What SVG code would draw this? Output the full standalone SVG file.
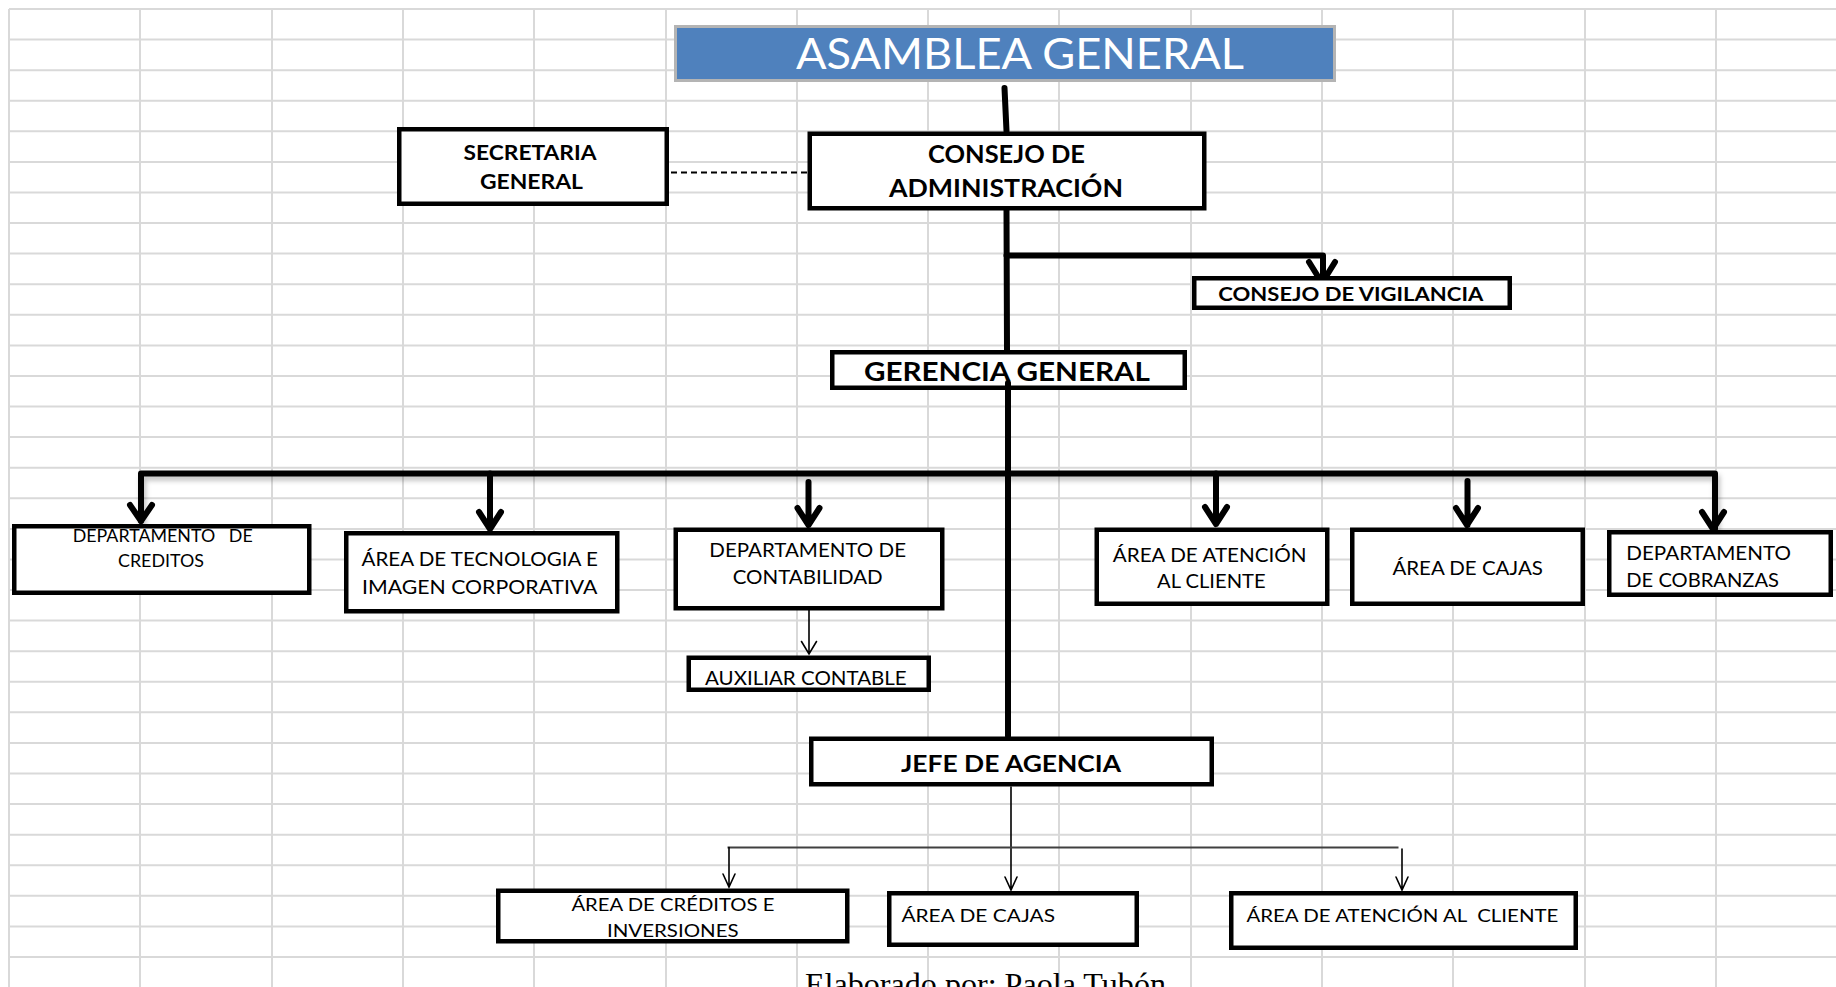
<svg xmlns="http://www.w3.org/2000/svg" width="1836" height="987" viewBox="0 0 1836 987">
  <style>
    .grid { stroke: #d9d9d9; stroke-width: 2; fill: none; }
    .box { fill: #ffffff; stroke: #000000; stroke-width: 4.5; }
    .thick { fill: none; stroke: #000000; stroke-width: 6; stroke-linecap: round; stroke-linejoin: round; }
    .thin { fill: none; stroke: #000000; stroke-width: 1.6; stroke-linecap: round; stroke-linejoin: miter; }
    .dash { fill: none; stroke: #000000; stroke-width: 2; stroke-dasharray: 6 4; }
    text { font-family: "Lato", "Open Sans", "Liberation Sans", sans-serif; fill: #000000; white-space: pre; }
    .b { font-weight: 700; }
    .n { font-weight: 400; }
    .title { fill: #ffffff; font-size: 43px; }
    .foot { font-family: "Liberation Serif", "Times New Roman", serif; font-size: 32px; }
  </style>
  <defs>
    <filter id="shadow" x="-5%" y="-50%" width="110%" height="300%">
      <feDropShadow dx="2" dy="4" stdDeviation="2.5" flood-color="#000000" flood-opacity="0.25"/>
    </filter>
  </defs>

  <rect width="1836" height="987" fill="#ffffff"/>

  <!-- worksheet grid -->
  <g id="grid">
    <path class="grid" d="M9 9V987 M140 9V987 M272 9V987 M403 9V987 M534 9V987 M666 9V987 M797 9V987 M928 9V987 M1059 9V987 M1191 9V987 M1322 9V987 M1453 9V987 M1585 9V987 M1716 9V987"/>
    <path class="grid" d="M9 9H1836 M9 39.6H1836 M9 70.2H1836 M9 100.7H1836 M9 131.3H1836 M9 161.9H1836 M9 192.5H1836 M9 223.1H1836 M9 253.6H1836 M9 284.2H1836 M9 314.8H1836 M9 345.4H1836 M9 376H1836 M9 406.5H1836 M9 437.1H1836 M9 467.7H1836 M9 498.3H1836 M9 528.9H1836 M9 559.4H1836 M9 590H1836 M9 620.6H1836 M9 651.2H1836 M9 681.8H1836 M9 712.3H1836 M9 742.9H1836 M9 773.5H1836 M9 804.1H1836 M9 834.7H1836 M9 865.2H1836 M9 895.8H1836 M9 926.4H1836 M9 957H1836"/>
  </g>

  <!-- connectors -->
  <g id="connectors">
    <path class="thick" d="M1004.5 88 L1006.5 131"/>
    <path class="thick" d="M1006.5 210 L1007 350"/>
    <path class="thick" d="M1006.5 255.5 H1323 V283 M1309 262 L1322 283 L1335 262"/>
    <path class="dash" d="M671 172.5 H807"/>
    <path class="thick" d="M141 521 V473.5 H1715 V529" filter="url(#shadow)"/>
    <path class="thick" d="M130 505 L141 521 L152 505"/>
    <path class="thick" d="M490 473.5 V529 M479 512 L490 529 L501 512"/>
    <path class="thick" d="M808.5 482 V525 M797.5 508 L808.5 525 L819.5 508"/>
    <path class="thick" d="M1216 473.5 V524 M1205 507 L1216 524 L1227 507"/>
    <path class="thick" d="M1467.5 481 V525 M1456 508 L1467 525 L1478 508"/>
    <path class="thick" d="M1702 512 L1713 529 L1724 512"/>
    <path class="thin" d="M809 610 V654 M801.5 641.5 L809 654 L816.5 641.5"/>
  </g>

  <!-- nodes -->
  <g id="asamblea-general">
    <rect x="675.5" y="26.5" width="659" height="54" fill="#4f81bd" stroke="#b4b4b4" stroke-width="3"/>
    <text class="title n" x="796" y="69" textLength="448" lengthAdjust="spacingAndGlyphs">ASAMBLEA GENERAL</text>
  </g>

  <g id="secretaria-general">
    <rect class="box" x="399.25" y="129.25" width="267.5" height="74.5"/>
    <text class="b" x="463.5" y="159.5" font-size="21" textLength="133" lengthAdjust="spacingAndGlyphs">SECRETARIA</text>
    <text class="b" x="480" y="189.3" font-size="21" textLength="103" lengthAdjust="spacingAndGlyphs">GENERAL</text>
  </g>

  <g id="consejo-administracion">
    <rect class="box" x="809.75" y="133.75" width="394.5" height="74.5"/>
    <text class="b" x="928" y="162.7" font-size="24.5" textLength="157" lengthAdjust="spacingAndGlyphs">CONSEJO DE</text>
    <text class="b" x="889" y="197.3" font-size="24.5" textLength="234" lengthAdjust="spacingAndGlyphs">ADMINISTRACIÓN</text>
  </g>

  <g id="consejo-vigilancia">
    <rect class="box" x="1194.25" y="278.25" width="315.5" height="29.5"/>
    <text class="b" x="1218.3" y="300.7" font-size="19.5" textLength="265" lengthAdjust="spacingAndGlyphs">CONSEJO DE VIGILANCIA</text>
  </g>

  <g id="gerencia-general">
    <rect class="box" x="832.25" y="352.25" width="352.5" height="35.5"/>
    <text class="b" x="864" y="380.7" font-size="26.5" textLength="286" lengthAdjust="spacingAndGlyphs">GERENCIA GENERAL</text>
  </g>

  <!-- trunk from Gerencia down to Jefe de Agencia drawn over the box edge -->
  <path class="thick" d="M1008 383 V736"/>

  <g id="departamento-creditos">
    <rect class="box" x="14.25" y="526.25" width="295" height="66.5"/>
    <text class="n" x="72.7" y="542.3" font-size="17" textLength="180" lengthAdjust="spacingAndGlyphs">DEPARTAMENTO   DE</text>
    <text class="n" x="118" y="566.7" font-size="17" textLength="86" lengthAdjust="spacingAndGlyphs">CREDITOS</text>
  </g>

  <g id="area-tecnologia">
    <rect class="box" x="346.25" y="533.25" width="271" height="78"/>
    <text class="n" x="361.5" y="566" font-size="20" textLength="236.5" lengthAdjust="spacingAndGlyphs">ÁREA DE TECNOLOGIA E</text>
    <text class="n" x="362" y="594" font-size="20" textLength="235.5" lengthAdjust="spacingAndGlyphs">IMAGEN CORPORATIVA</text>
  </g>

  <g id="departamento-contabilidad">
    <rect class="box" x="675.75" y="529.75" width="266.5" height="78.5"/>
    <text class="n" x="709.3" y="557.3" font-size="19.5" textLength="196.7" lengthAdjust="spacingAndGlyphs">DEPARTAMENTO DE</text>
    <text class="n" x="732.7" y="584.3" font-size="19.5" textLength="150" lengthAdjust="spacingAndGlyphs">CONTABILIDAD</text>
  </g>

  <g id="auxiliar-contable">
    <rect class="box" x="688.75" y="657.75" width="240" height="32"/>
    <text class="n" x="705" y="685" font-size="18.5" textLength="201.7" lengthAdjust="spacingAndGlyphs">AUXILIAR CONTABLE</text>
  </g>

  <g id="area-atencion">
    <rect class="box" x="1096.75" y="529.75" width="230.5" height="74"/>
    <text class="n" x="1112.8" y="561.7" font-size="19.5" textLength="193.8" lengthAdjust="spacingAndGlyphs">ÁREA DE ATENCIÓN</text>
    <text class="n" x="1157" y="587.7" font-size="19.5" textLength="108.6" lengthAdjust="spacingAndGlyphs">AL CLIENTE</text>
  </g>

  <g id="area-cajas">
    <rect class="box" x="1352.25" y="529.75" width="230.5" height="74"/>
    <text class="n" x="1392.4" y="575" font-size="19.5" textLength="150.5" lengthAdjust="spacingAndGlyphs">ÁREA DE CAJAS</text>
  </g>

  <g id="departamento-cobranzas">
    <rect class="box" x="1609.25" y="532.25" width="221.5" height="62.5"/>
    <text class="n" x="1626.3" y="560" font-size="19.5" textLength="164.7" lengthAdjust="spacingAndGlyphs">DEPARTAMENTO</text>
    <text class="n" x="1626.3" y="586.7" font-size="19.5" textLength="152.7" lengthAdjust="spacingAndGlyphs">DE COBRANZAS</text>
  </g>

  <g id="jefe-agencia">
    <rect class="box" x="811.25" y="738.75" width="400.5" height="45.5"/>
    <text class="b" x="901" y="771.7" font-size="23.7" textLength="220" lengthAdjust="spacingAndGlyphs">JEFE DE AGENCIA</text>
  </g>

  <!-- branches under Jefe de Agencia -->
  <g id="agency-connectors">
    <path class="thin" d="M1011 787 V890 M1005 877 L1011 890 L1017 877"/>
    <path fill="none" stroke="#404040" stroke-width="2" d="M727.5 847.5 H1398.5"/>
    <path class="thin" d="M729 847.5 V887 M723 874 L729 887 L735 874"/>
    <path class="thin" d="M1402 849 V890 M1396 877 L1402 890 L1408 877"/>
  </g>

  <g id="area-creditos-inversiones">
    <rect class="box" x="498.25" y="890.75" width="349" height="50.5"/>
    <text class="n" x="571.4" y="910.7" font-size="18" textLength="203" lengthAdjust="spacingAndGlyphs">ÁREA DE CRÉDITOS E</text>
    <text class="n" x="607" y="936.7" font-size="18" textLength="131.6" lengthAdjust="spacingAndGlyphs">INVERSIONES</text>
  </g>

  <g id="area-cajas-agencia">
    <rect class="box" x="889.25" y="893.25" width="247.5" height="51.5"/>
    <text class="n" x="901.4" y="921.7" font-size="18" textLength="153.6" lengthAdjust="spacingAndGlyphs">ÁREA DE CAJAS</text>
  </g>

  <g id="area-atencion-agencia">
    <rect class="box" x="1231.25" y="893.25" width="344.5" height="54.5"/>
    <text class="n" x="1246.4" y="921.7" font-size="18" textLength="312" lengthAdjust="spacingAndGlyphs">ÁREA DE ATENCIÓN AL  CLIENTE</text>
  </g>

  <text class="foot" x="805" y="994.5" textLength="361" lengthAdjust="spacingAndGlyphs">Elaborado por: Paola Tubón</text>
</svg>
